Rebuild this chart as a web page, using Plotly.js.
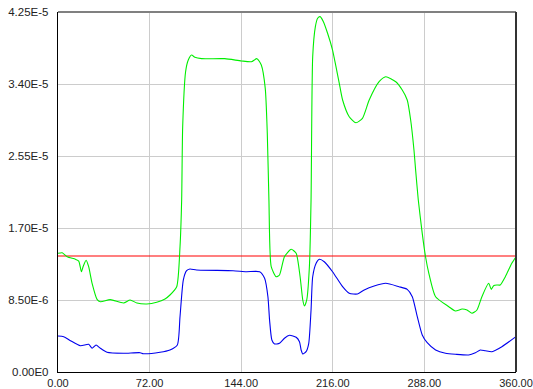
<!DOCTYPE html>
<html>
<head>
<meta charset="utf-8">
<script src="https://cdn.plot.ly/plotly-3.0.1.min.js"></script>
<style>html,body{margin:0;padding:0;background:#fff;}#chart{width:533px;height:389px;}</style>
</head>
<body>
<div id="chart"></div>
<script>
// Green series (x in degrees, y in units of 1E-6)
const greenX = [0,3.3,7.2,13.7,16.3,18.4,19.7,22.1,24.1,26.8,30.7,33.3,41.1,51.5,56.7,62.0,69.8,77.6,84.1,88.0,93.3,95.9,97.2,98.0,100.3,102.4,105.0,107.6,112.9,131.1,144.2,152.0,156.4,159.8,162.9,164.5,165.8,167.6,171.5,174.1,178.0,183.3,187.2,190.3,192.4,193.7,195.5,197.6,198.9,200.2,202.3,204.1,206.0,208.6,211.9,215.8,218.5,221.1,223.7,228.9,234.2,239.3,244.6,252.4,257.6,265.5,270.6,274.5,277.2,279.8,281.1,283.2,286.3,288.9,291.5,296.8,307.2,312.4,317.6,321.5,325.4,329.3,333.2,338.5,340.6,342.4,345.0,347.6,351.6,356.7,360];
const greenY = [14.01,14.08,13.61,13.31,13.10,11.84,12.43,13.19,12.43,10.47,8.58,8.30,8.54,8.15,8.50,8.15,8.03,8.23,8.62,9.09,10.07,14.79,20.31,28.96,35.45,36.83,37.42,37.15,36.99,36.99,36.72,36.63,36.99,36.24,33.49,28.22,20.31,12.43,11.25,11.45,13.61,14.49,14.01,11.25,8.50,7.79,8.50,12.43,20.31,37.22,40.77,41.76,41.95,41.36,39.99,38.01,36.04,34.08,32.11,30.14,29.43,29.95,32.11,34.27,34.86,34.27,33.29,32.11,29.75,26.21,23.85,20.31,16.37,13.61,11.65,8.89,7.71,7.20,7.44,7.32,6.93,7.32,8.89,10.47,9.76,10.19,10.27,10.27,11.25,12.83,13.61];
// Blue series
const blueX = [0,4.5,9.8,17.6,24.1,26.8,29.9,33.3,38.5,51.5,64.6,67.1,80.2,88.0,93.8,95.9,98.5,101.1,103.7,108.9,137.6,148.1,158.5,162.4,165.0,166.3,168.1,170.2,174.1,178.0,182.0,187.2,189.8,191.1,192.4,195.0,197.1,198.9,200.2,202.9,205.4,209.3,215.8,223.7,228.9,235.4,240.7,248.5,257.6,268.0,274.5,278.5,282.4,286.3,290.2,296.8,304.6,312.4,322.8,328.1,332.0,335.9,341.1,348.9,360];
const blueY = [4.25,4.17,3.70,3.10,3.27,2.80,3.19,2.80,2.33,2.21,2.28,2.16,2.33,2.60,3.19,6.53,10.86,11.96,12.16,12.04,11.96,11.84,11.84,11.06,8.89,6.14,3.78,3.31,3.39,3.98,4.33,4.10,3.58,2.60,2.13,2.40,3.39,7.32,11.25,12.83,13.31,13.02,11.84,10.07,9.29,9.21,9.68,10.15,10.47,10.07,9.76,8.89,6.53,4.37,3.46,2.60,2.21,2.09,2.01,2.28,2.60,2.51,2.40,2.99,4.17];
// Red threshold line
const redX = [0,360];
const redY = [13.7,13.7];
// Tick labels
const xTickVals = [0,72,144,216,288,360];
const xTickText = ["0.00","72.00","144.00","216.00","288.00","360.00"];
const yTickVals = [0,8.5,17,25.5,34,42.5];
const yTickText = ["0.00E0","8.50E-6","1.70E-5","2.55E-5","3.40E-5","4.25E-5"];

const scale = 1e-6;
const traces = [
  {x: redX, y: redY.map(v=>v*scale), mode:'lines', line:{color:'#ff0000', width:1.1}, hoverinfo:'skip'},
  {x: greenX, y: greenY.map(v=>v*scale), mode:'lines', line:{color:'#00ee00', width:1.1, shape:'spline', smoothing:0.6}},
  {x: blueX, y: blueY.map(v=>v*scale), mode:'lines', line:{color:'#0000ee', width:1.1, shape:'spline', smoothing:0.6}}
];

const font = {family:'"Liberation Sans", Arial, sans-serif', size:11.5, color:'#222'};
const xfont = {family:'"Liberation Sans", Arial, sans-serif', size:11, color:'#222'};
const layout = {
  width:533, height:389,
  margin:{l:58, r:17, t:12, b:17, pad:0},
  paper_bgcolor:'#fff', plot_bgcolor:'#fff',
  showlegend:false,
  font: font,
  xaxis:{range:[0,360], tickvals:xTickVals, ticktext:xTickText, showgrid:true, gridcolor:'#cccccc', gridwidth:1,
         zeroline:false, showline:true, linecolor:'#000', linewidth:1.2, ticks:'', ticklabelstandoff:1, ticklabeloverflow:'allow',
         automargin:false, tickfont:xfont, fixedrange:true},
  yaxis:{range:[0,42.5*scale], tickvals:yTickVals.map(v=>v*scale), ticktext:yTickText, showgrid:true, gridcolor:'#cccccc', gridwidth:1,
         zeroline:false, showline:true, linecolor:'#000', linewidth:1.2, ticks:'', ticklabelstandoff:6, ticklabeloverflow:'allow',
         automargin:false, tickfont:font, fixedrange:true},
  shapes:[
    {type:'line', xref:'paper', yref:'paper', x0:0, x1:1, y0:1, y1:1, line:{color:'#808080', width:2.2}},
    {type:'line', xref:'paper', yref:'paper', x0:1, x1:1, y0:0, y1:1, line:{color:'#333333', width:2}}
  ]
};
Plotly.newPlot('chart', traces, layout, {staticPlot:true, displayModeBar:false});
</script>
</body>
</html>
